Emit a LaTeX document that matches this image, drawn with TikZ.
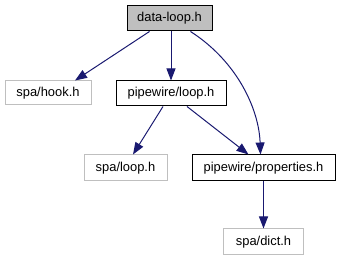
\documentclass[tikz,border=0pt]{standalone}
\usepackage{fontspec}
\setmainfont{Liberation Sans}
\usetikzlibrary{arrows.meta}
\definecolor{edgeblue}{HTML}{191970}
\definecolor{boxgray}{HTML}{BFBFBF}
\begin{document}
\begin{tikzpicture}[x=1pt,y=-1pt,
  box/.style={draw, line width=1pt, inner sep=0pt, align=center,
    font=\fontsize{12.9}{15}\selectfont},
  current/.style={box, fill=boxgray, draw=black},
  plain/.style={box, draw=black},
  extern/.style={box, draw=boxgray},
  dep/.style={draw=edgeblue, line width=1pt,
    -{Triangle[length=12pt,width=9pt]}, color=edgeblue}]
\useasboundingbox (0,0) rectangle (340,261);

\node[current, minimum width=85pt, minimum height=25pt] (dl) at (169.5,18.5) {data-loop.h};
\node[extern, minimum width=86pt, minimum height=24pt] (hook) at (48,93) {spa/hook.h};
\node[plain, minimum width=110pt, minimum height=25pt] (pwloop) at (171,93.5) {pipewire/loop.h};
\node[extern, minimum width=83pt, minimum height=26pt] (spaloop) at (125.5,168) {spa/loop.h};
\node[plain, minimum width=143pt, minimum height=26pt] (props) at (263.5,168) {pipewire/properties.h};
\node[extern, minimum width=80pt, minimum height=26pt] (dict) at (263.5,242) {spa/dict.h};

\draw[dep] ([xshift=-20pt]dl.south) -- ([xshift=27pt]hook.north);
\draw[dep] ([xshift=1.5pt]dl.south) -- (pwloop.north);
\draw[dep] ([xshift=21pt]dl.south) .. controls (238,62) and (259,110) .. ([xshift=-3pt]props.north);
\draw[dep] ([xshift=-8pt]pwloop.south) -- ([xshift=7.5pt]spaloop.north);
\draw[dep] ([xshift=16pt]pwloop.south) -- ([xshift=-15pt]props.north);
\draw[dep] (props.south) -- (dict.north);
\end{tikzpicture}
\end{document}
